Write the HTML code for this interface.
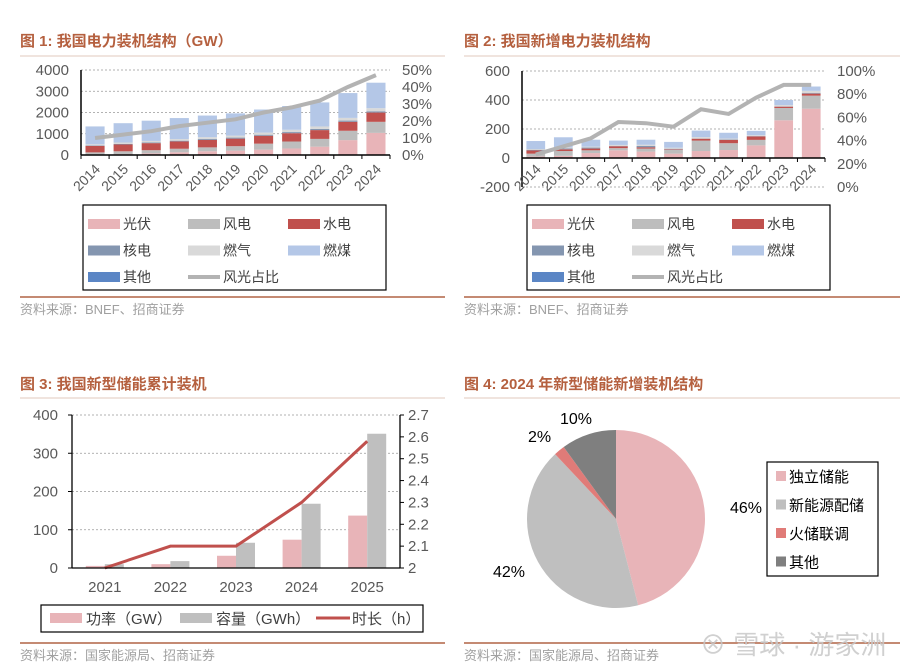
<!DOCTYPE html>
<html><head><meta charset="utf-8">
<style>
body{margin:0;background:#fff;width:918px;height:672px;overflow:hidden;font-family:"Liberation Sans","Noto Sans CJK SC",sans-serif;}
svg{position:absolute;left:0;top:0}
</style></head>
<body>
<svg id="s" width="918" height="672" viewBox="0 0 918 672" font-family="Liberation Sans, Noto Sans CJK SC, sans-serif"></svg>
<script>
const years1=["2014","2015","2016","2017","2018","2019","2020","2021","2022","2023","2024"];
const c1Solar=[28,43,77,130,175,205,253,307,393,700,1040];
const c1Wind=[96,131,149,164,184,210,282,328,365,441,521];
const c1Hydro=[304,320,332,344,352,356,370,391,414,422,436];
const c1Nuclear=[20,27,34,36,45,49,50,53,56,57,61];
const c1Gas=[57,66,70,76,84,90,98,109,115,126,144];
const c1Coal=[832,900,943,980,1008,1040,1080,1110,1124,1160,1190];
const c1Other=[5,5,5,5,5,5,5,5,5,5,5];
const c1Ratio=[10,12,14,17,19,21,25,28,32,40,47];
const c1LeftTicks=[0,1000,2000,3000,4000];
const c1RightTicks=["0%","10%","20%","30%","40%","50%"];

const c2Solar=[10,15,34,53,44,30,48,55,87,260,340];
const c2Wind=[20,33,19,15,21,26,72,47,38,85,90];
const c2Hydro=[22,12,12,13,9,4,13,23,24,9,14];
const c2Nuclear=[5,6,7,2,9,4,1,3,2,1,4];
const c2Gas=[5,7,6,7,8,7,10,6,6,10,15];
const c2Coal=[55,70,48,30,35,40,45,40,30,35,30];
const c2Ratio=[28,35,42,56,55,52,67,63,77,88,88];
const c2LeftTicks=[-200,0,200,400,600];
const c2RightTicks=["0%","20%","40%","60%","80%","100%"];

const years3=["2021","2022","2023","2024","2025"];
const c3Power=[5.5,10,32,74,137];
const c3Capacity=[10,18,66,168,351];
const c3Duration=[2.0,2.1,2.1,2.3,2.58];
const c3LeftTicks=[0,100,200,300,400];
const c3RightTicks=["2","2.1","2.2","2.3","2.4","2.5","2.6","2.7"];

const pieLabels=["独立储能","新能源配储","火储联调","其他"];
const pieValues=[46,42,2,10];

const S=document.getElementById('s');const NS="http://www.w3.org/2000/svg";
function el(tag,attrs,parent,txt){const e=document.createElementNS(NS,tag);for(const k in attrs)e.setAttribute(k,attrs[k]);if(txt!==undefined)e.textContent=txt;(parent||S).appendChild(e);return e;}
function grp(name){const g=el('g',{},S);return g;}
const BROWN="#b5603f",LINE="#c48a73";
const cols={solar:"#e8b4b8",wind:"#bdbdbd",hydro:"#c0504d",nuclear:"#8496b0",gas:"#d9d9d9",coal:"#b4c7e7",other:"#5b86c5",ratio:"#b3b3b3"};

function title(x,y,t,name){const e=el('text',{x:x,y:y,'font-size':15,'font-weight':'bold',fill:BROWN},S,t);}
title(20,46,"图 1:  我国电力装机结构（GW）","chart1-title");
title(464,46,"图 2:  我国新增电力装机结构","chart2-title");
title(20,389,"图 3:  我国新型储能累计装机","chart3-title");
title(464,389,"图 4:  2024 年新型储能新增装机结构","chart4-title");
[[20,445,56],[464,900,56],[20,445,398],[464,900,398]].forEach(a=>{const l=el('line',{x1:a[0],x2:a[1],y1:a[2],y2:a[2],stroke:"#e0c8bd","stroke-width":1});});
[[20,445,297],[464,900,297],[20,445,643],[464,900,643]].forEach(a=>{const l=el('line',{x1:a[0],x2:a[1],y1:a[2],y2:a[2],stroke:LINE,"stroke-width":2});});
function src(x,y,t){const e=el('text',{x:x,y:y,'font-size':13,fill:"#a0a0a0"},S,t);}
src(20,314,"资料来源：BNEF、招商证券");src(464,314,"资料来源：BNEF、招商证券");
src(20,660,"资料来源：国家能源局、招商证券");src(464,660,"资料来源：国家能源局、招商证券");

function stackedChart(g,o){
  const {x0,x1,yTop,yBot,lmin,lmax,n,rmax}=o;
  const ly=v=>yBot-(v-lmin)/(lmax-lmin)*(yBot-yTop);
  const ry=v=>yBot-v/rmax*(yBot-yTop);
  const bw=(x1-x0)/n;const cx=i=>x0+bw*(i+0.5);
  o.lt.forEach(t=>{const y=ly(t);
    if(t!==0||lmin<0){const gl=el('line',{x1:x0,x2:x1,y1:y,y2:y,stroke:"#999","stroke-dasharray":"2,2","stroke-width":0.8},g);}
    const tx=el('text',{x:x0-12,y:y+5,'font-size':15,fill:"#595959","text-anchor":"end"},g,t);});
  o.rt.forEach((t,i)=>{const y=yBot-i/(o.rt.length-1)*(yBot-yTop);const tx=el('text',{x:x1+12,y:y+5,'font-size':15,fill:"#595959"},g,t);});
  const series=o.series;
  for(let i=0;i<n;i++){let acc=0;series.forEach(s=>{const v=s.d[i];const yA=ly(acc),yB=ly(acc+v);const r=el('rect',{x:cx(i)-bw*0.34,y:yB,width:bw*0.68,height:yA-yB,fill:s.c},g);acc+=v;});}
  const z=ly(0);
  const ax=el('line',{x1:x0,x2:x1,y1:z,y2:z,stroke:"#000","stroke-width":1.5},g);
  const ay=el('line',{x1:x0,x2:x0,y1:yTop,y2:yBot,stroke:"#000","stroke-width":1.5},g);
  for(let i=0;i<=n;i++){const t=el('line',{x1:x0+bw*i,x2:x0+bw*i,y1:z,y2:z+4,stroke:"#000"},g);}
  const pts=o.ratio.map((v,i)=>cx(i)+","+ry(v)).join(" ");
  const pl=el('polyline',{points:pts,fill:"none",stroke:cols.ratio,"stroke-width":4},g);
  o.cats.forEach((c,i)=>{const x=cx(i)+6,y=o.labY;const t=el('text',{x:x,y:y,'font-size':14,fill:"#595959","text-anchor":"end",transform:`rotate(-45 ${x} ${y})`},g,c);});
}
function mkSeries(a){return [{k:'solar',c:cols.solar,d:a[0]},{k:'wind',c:cols.wind,d:a[1]},{k:'hydro',c:cols.hydro,d:a[2]},{k:'nuclear',c:cols.nuclear,d:a[3]},{k:'gas',c:cols.gas,d:a[4]},{k:'coal',c:cols.coal,d:a[5]},{k:'other',c:cols.other,d:a[6]||a[0].map(()=>0)}];}
stackedChart(grp('chart1'),{x0:81,x1:390,yTop:70,yBot:155,lmin:0,lmax:4000,rmax:50,n:11,cats:years1,lt:c1LeftTicks,rt:c1RightTicks,ratio:c1Ratio,labY:170,series:mkSeries([c1Solar,c1Wind,c1Hydro,c1Nuclear,c1Gas,c1Coal,c1Other])});
stackedChart(grp('chart2'),{x0:522,x1:825,yTop:71,yBot:187,lmin:-200,lmax:600,rmax:100,n:11,cats:years1,lt:c2LeftTicks,rt:c2RightTicks,ratio:c2Ratio,labY:170,series:mkSeries([c2Solar,c2Wind,c2Hydro,c2Nuclear,c2Gas,c2Coal])});

function legend(g,x,y){
  const box=el('rect',{x:x,y:y,width:303,height:85,fill:"#fff",stroke:"#000","stroke-width":1.2},g);
  const items=[["光伏",cols.solar],["风电",cols.wind],["水电",cols.hydro],["核电",cols.nuclear],["燃气",cols.gas],["燃煤",cols.coal],["其他",cols.other],["风光占比",null]];
  items.forEach((it,i)=>{const cx=x+5+(i%3)*100,cy=y+19+Math.floor(i/3)*26.5;
    if(it[1]){const r=el('rect',{x:cx,y:cy-5,width:32,height:10,fill:it[1]},g);}
    else{const l=el('line',{x1:cx,x2:cx+32,y1:cy,y2:cy,stroke:cols.ratio,"stroke-width":4},g);}
    const t=el('text',{x:cx+35,y:cy+5,'font-size':14,fill:"#404040"},g,it[0]);});
}
legend(grp('chart1-legend'),83,205);legend(grp('chart2-legend'),527,205);

(function(){const g=grp('chart3');const x0=72,x1=400,yTop=415,yBot=568;
  const ly=v=>yBot-v/400*(yBot-yTop);const ry=v=>yBot-(v-2)/0.7*(yBot-yTop);
  const bw=(x1-x0)/5;const cx=i=>x0+bw*(i+0.5);
  c3LeftTicks.forEach(t=>{const y=ly(t);if(t>0){const gl=el('line',{x1:x0,x2:x1,y1:y,y2:y,stroke:"#999","stroke-dasharray":"2,2","stroke-width":0.8},g);}
    const tl=el('line',{x1:x0-4,x2:x0,y1:y,y2:y,stroke:"#000"},g);
    const tx=el('text',{x:x0-14,y:y+5,'font-size':15,fill:"#595959","text-anchor":"end"},g,t);});
  c3RightTicks.forEach((t,i)=>{const y=yBot-i/(c3RightTicks.length-1)*(yBot-yTop);const tl=el('line',{x1:x1,x2:x1+4,y1:y,y2:y,stroke:"#000"},g);
    const tx=el('text',{x:x1+8,y:y+5,'font-size':15,fill:"#595959"},g,t);});
  for(let i=0;i<5;i++){
    const p=el('rect',{x:cx(i)-19,y:ly(c3Power[i]),width:19,height:yBot-ly(c3Power[i]),fill:"#e8b4b8"},g);
    const c=el('rect',{x:cx(i),y:ly(c3Capacity[i]),width:19,height:yBot-ly(c3Capacity[i]),fill:"#bfbfbf"},g);
    const t=el('text',{x:cx(i),y:yBot+24,'font-size':15,fill:"#595959","text-anchor":"middle"},g,years3[i]);}
  const pl=el('polyline',{points:c3Duration.map((v,i)=>cx(i)+","+ry(v)).join(" "),fill:"none",stroke:"#c0504d","stroke-width":3},g);
  [[x0,x0,yTop,yBot],[x1,x1,yTop,yBot],[x0,x1,yBot,yBot]].forEach(a=>{const l=el('line',{x1:a[0],x2:a[1],y1:a[2],y2:a[3],stroke:"#000","stroke-width":1.3},g);});
  const lg=grp('chart3-legend');const b=el('rect',{x:41,y:605,width:382,height:27,fill:"#fff",stroke:"#000","stroke-width":1.2},lg);
  [[50,"功率（GW）","#e8b4b8","r"],[180,"容量（GWh）","#bfbfbf","r"],[316,"时长（h）","#c0504d","l"]].forEach(a=>{
    let sw;if(a[3]==="r")sw=el('rect',{x:a[0],y:613,width:32,height:10,fill:a[2]},lg);else sw=el('line',{x1:a[0],x2:a[0]+34,y1:618,y2:618,stroke:a[2],"stroke-width":3},lg);
    
    const t=el('text',{x:a[0]+36,y:624,'font-size':15,fill:"#404040"},lg,a[1]);});
})();

(function(){const g=grp('chart4');const cx=616,cy=519,r=89;const colors=["#e8b4b8","#bfbfbf","#e07b78","#7f7f7f"];
  const tot=pieValues.reduce((a,b)=>a+b,0);let a0=-Math.PI/2;
  const labPos=[[730,513],[493,577],[528,442],[560,424]];
  pieValues.forEach((v,i)=>{const a1=a0+v/tot*2*Math.PI;const x0=cx+r*Math.cos(a0),y0=cy+r*Math.sin(a0),x1=cx+r*Math.cos(a1),y1=cy+r*Math.sin(a1);
    const p=el('path',{d:`M${cx},${cy}L${x0},${y0}A${r},${r} 0 ${a1-a0>Math.PI?1:0} 1 ${x1},${y1}Z`,fill:colors[i]},g);
    const t=el('text',{x:labPos[i][0],y:labPos[i][1],'font-size':16,fill:"#000"},g,v+"%");
    a0=a1;});
  const lg=grp('chart4-legend');const b=el('rect',{x:767,y:462,width:111,height:114,fill:"#fff",stroke:"#000","stroke-width":1.2},lg);
  pieLabels.forEach((l,i)=>{const y=476+i*28.5;const s=el('rect',{x:776,y:y-5,width:10,height:10,fill:colors[i]},lg);
    const t=el('text',{x:789,y:y+6,'font-size':15,fill:"#000"},lg,l);});
})();
const wm=el('text',{x:700,y:654,'font-size':26,fill:"#c8c8c8","opacity":0.85},S,"⊗ 雪球 · 游家洲");


</script>
</body></html>
